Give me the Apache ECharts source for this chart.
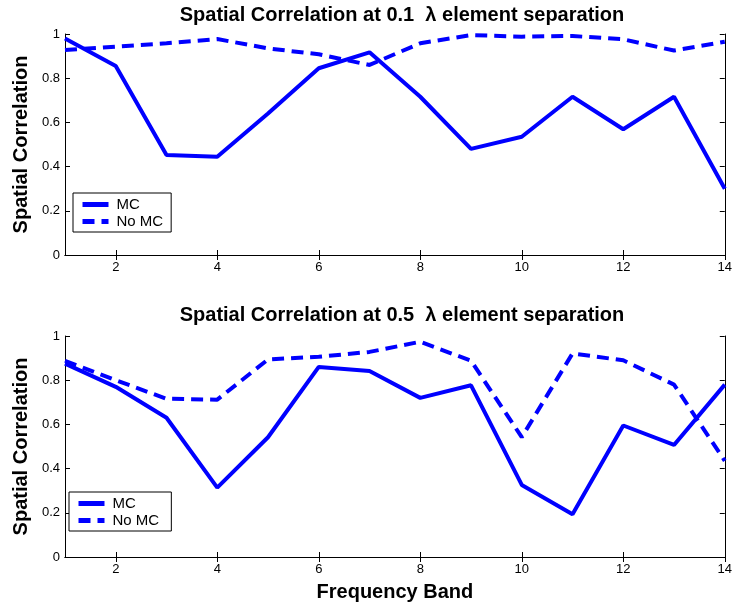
<!DOCTYPE html>
<html>
<head>
<meta charset="utf-8">
<script src="https://cdn.jsdelivr.net/npm/echarts@6/dist/echarts.min.js"></script>
<style>
    html, body { margin: 0; padding: 0; background: #fff; }
    #chart { width: 735px; height: 606px; }
</style>
</head>
<body>
<div id="chart"></div>
<script>
// frequency bands 1..14
var bands = [1, 2, 3, 4, 5, 6, 7, 8, 9, 10, 11, 12, 13, 14];
var xTickLabels = [2, 4, 6, 8, 10, 12, 14];
var yTickLabels = [0, 0.2, 0.4, 0.6, 0.8, 1];

// 0.1 lambda
var mcTop = [0.98, 0.855, 0.452, 0.445, 0.64, 0.845, 0.917, 0.716, 0.48, 0.535, 0.716, 0.569, 0.716, 0.30];
var noMcTop = [0.928, 0.943, 0.958, 0.977, 0.935, 0.908, 0.86, 0.958, 0.995, 0.988, 0.991, 0.976, 0.925, 0.965];
// 0.5 lambda
var mcBottom = [0.875, 0.77, 0.63, 0.314, 0.542, 0.86, 0.842, 0.72, 0.777, 0.326, 0.193, 0.595, 0.507, 0.78];
var noMcBottom = [0.888, 0.80, 0.716, 0.712, 0.894, 0.906, 0.928, 0.974, 0.888, 0.542, 0.921, 0.89, 0.78, 0.435];

var BLUE = '#0000ff';
var sans = '"Liberation Sans", Arial, Helvetica, sans-serif';

function pairs(vals) {
    return bands.map(function (b, i) { return [b, vals[i]]; });
}

var grids = [
    {left: 65, top: 34, width: 661, height: 221},
    {left: 65, top: 336, width: 661, height: 221}
];

var xAxes = [], yAxes = [];
grids.forEach(function (g, i) {
    // bottom axis with labels
    xAxes.push({
        type: 'value', gridIndex: i, min: 1, max: 14,
        splitLine: {show: false},
        axisLine: {lineStyle: {color: '#000', width: 1}},
        axisTick: {inside: true, length: 5, lineStyle: {color: '#000'}, customValues: xTickLabels},
        axisLabel: {customValues: xTickLabels, color: '#000', fontSize: 13, fontFamily: sans, margin: 6},
        name: i === 1 ? 'Frequency Band' : '',
        nameLocation: 'middle', nameGap: 25,
        nameTextStyle: {color: '#000', fontSize: 20, fontWeight: 'bold', fontFamily: sans}
    });
    // top edge of the box
    xAxes.push({
        type: 'value', gridIndex: i, min: 1, max: 14, position: 'top',
        splitLine: {show: false},
        axisLine: {lineStyle: {color: '#000', width: 1}},
        axisTick: {inside: true, length: 5, lineStyle: {color: '#000'}, customValues: xTickLabels},
        axisLabel: {show: false}
    });
    yAxes.push({
        type: 'value', gridIndex: i, min: 0, max: 1, interval: 0.2,
        splitLine: {show: false},
        axisLine: {show: true, lineStyle: {color: '#000', width: 1}},
        axisTick: {show: true, inside: true, length: 5, lineStyle: {color: '#000'}},
        axisLabel: {color: '#000', fontSize: 13, fontFamily: sans, margin: 5},
        name: 'Spatial Correlation',
        nameLocation: 'middle', nameGap: 33,
        nameTextStyle: {color: '#000', fontSize: 20, fontWeight: 'bold', fontFamily: sans}
    });
    // right edge of the box
    yAxes.push({
        type: 'value', gridIndex: i, min: 0, max: 1, interval: 0.2, position: 'right',
        splitLine: {show: false},
        axisLine: {show: true, lineStyle: {color: '#000', width: 1}},
        axisTick: {show: true, inside: true, length: 5, lineStyle: {color: '#000'}},
        axisLabel: {show: false}
    });
});

function lineSeries(name, vals, gi, dashed) {
    return {
        name: name,
        type: 'line',
        xAxisIndex: gi * 2,
        yAxisIndex: gi * 2,
        data: pairs(vals),
        symbol: 'none',
        silent: true,
        lineStyle: {color: BLUE, width: 4, type: dashed ? [12, 7] : 'solid'},
        itemStyle: {color: BLUE}
    };
}

function legendBox(names, left, top) {
    return {
        data: names,
        left: left, top: top, orient: 'vertical',
        borderColor: '#000', borderWidth: 1, backgroundColor: '#fff', borderRadius: 0,
        padding: [4, 8, 3, 7], itemGap: 2, itemWidth: 26, itemHeight: 14,
        itemStyle: {opacity: 0},
        lineStyle: {width: 5},
        textStyle: {color: '#000', fontSize: 15, fontFamily: sans, padding: [0, 0, 0, 3]}
    };
}

var titleStyle = {color: '#000', fontSize: 20, fontWeight: 'bold', fontFamily: sans};

var option = {
    backgroundColor: '#fff',
    animation: false,
    title: [
        {text: 'Spatial Correlation at 0.1  λ element separation', left: 397, top: 0, textAlign: 'center', textStyle: titleStyle},
        {text: 'Spatial Correlation at 0.5  λ element separation', left: 397, top: 300, textAlign: 'center', textStyle: titleStyle}
    ],
    legend: [
        legendBox(['MC', 'No MC'], 73, 193),
        legendBox(['MC ', 'No MC '], 69, 492)
    ],
    grid: grids,
    xAxis: xAxes,
    yAxis: yAxes,
    series: [
        lineSeries('MC', mcTop, 0, false),
        lineSeries('No MC', noMcTop, 0, true),
        lineSeries('MC ', mcBottom, 1, false),
        lineSeries('No MC ', noMcBottom, 1, true)
    ]
};

var chart = echarts.init(document.getElementById('chart'), null, {renderer: 'canvas'});
chart.setOption(option);
</script>
</body>
</html>
